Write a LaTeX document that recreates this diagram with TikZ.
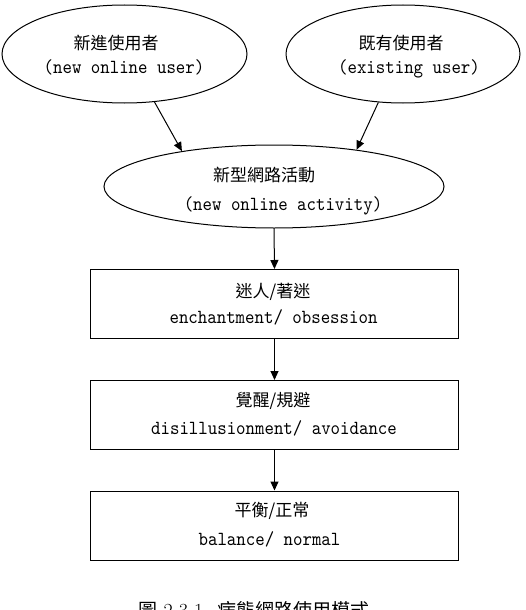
\documentclass[tikz,border=0pt]{standalone}
\usepackage{fontspec}
\usetikzlibrary{shapes.geometric,arrows.meta}
\newfontfamily\cjk{Noto Sans CJK TC}
\newfontfamily\enfont[FakeStretch=0.9]{lmmono10-regular.otf}
\begin{document}
\begin{tikzpicture}[x=1pt,y=-1pt,
  ell/.style={draw, ellipse, inner sep=0pt, line width=1pt},
  stage/.style={draw, rectangle, inner sep=0pt, minimum width=368pt, minimum height=69pt, line width=1pt},
  zh/.style={font=\cjk\fontsize{17}{20}\selectfont, inner sep=0pt, anchor=base},
  en/.style={font=\enfont\fontsize{20}{24}\selectfont, inner sep=0pt, anchor=base},
  arr/.style={-{Triangle[length=9pt,width=8pt]}, line width=1pt}]
\useasboundingbox (0,0) rectangle (526,610);
\clip (0,0) rectangle (526,610);
% shapes
\node[ell, minimum width=245pt, minimum height=98pt] (nu) at (124.5,54) {};
\node[ell, minimum width=234pt, minimum height=98pt] (eu) at (403,54) {};
\node[ell, minimum width=340pt, minimum height=83pt] (act) at (274,186.5) {};
\node[stage] (s1) at (274.5,304) {};
\node[stage] (s2) at (274.5,415) {};
\node[stage] (s3) at (274.5,525.5) {};
% texts
\node[zh] (nuzh) at (116,49) {新進使用者};
\node[en] (nuen) at (124,74) {(new online user)};
\node[zh] (euzh) at (401,49) {既有使用者};
\node[en] (euen) at (409,74) {(existing user)};
\node[zh] (actzh) at (264,181) {新型網路活動};
\node[en] (acten) at (283,210) {(new online activity)};
\node[zh] (s1zh) at (273,297) {迷人/著迷};
\node[en] (s1en) at (273.5,323) {enchantment/ obsession};
\node[zh] (s2zh) at (273,406) {覺醒/規避};
\node[en] (s2en) at (274,434) {disillusionment/ avoidance};
\node[zh] (s3zh) at (272,516) {平衡/正常};
\node[en] (s3en) at (269.5,545) {balance/ normal};
% connectors
\draw[arr] (nu.-58) -- (act.159);
\draw[arr] (eu.-117) -- (act.24);
\draw[arr] (act.south) -- (s1.north);
\draw[arr] (s1.south) -- (s2.north);
\draw[arr] (s2.south) -- (s3.north);
% caption
\node[font=\fontsize{20}{24}\selectfont, anchor=base, inner sep=0pt] (cap) at (254,617.5)
  {{\cjk\fontsize{19}{24}\selectfont 圖} 2-3-1\hspace{14pt}{\cjk\fontsize{19}{24}\selectfont 病態網路使用模式}};
\end{tikzpicture}
\end{document}
